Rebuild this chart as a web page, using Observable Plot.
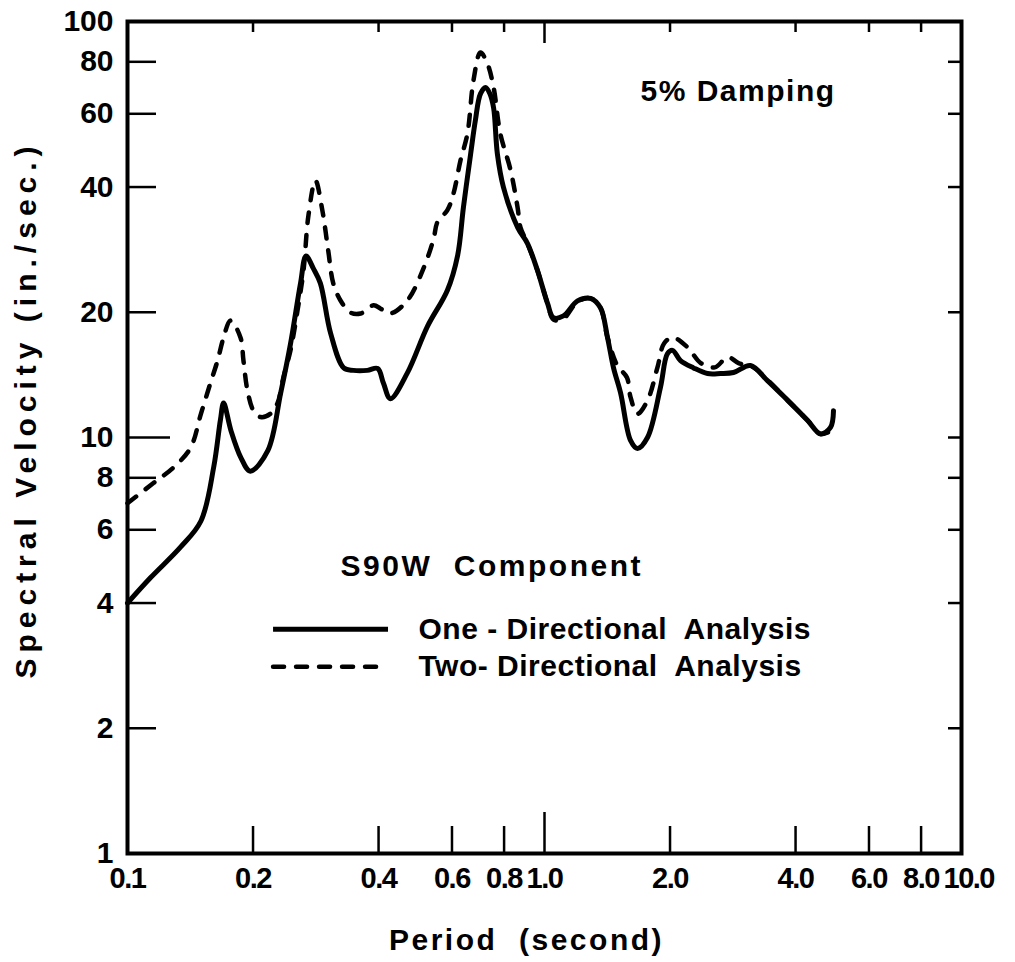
<!DOCTYPE html>
<html>
<head>
<meta charset="utf-8">
<script src="https://cdn.jsdelivr.net/npm/d3@7"></script>
<script src="https://cdn.jsdelivr.net/npm/@observablehq/plot@0.6"></script>
<style>
  body { margin: 0; background: #fff; }
  svg { font-family: "Liberation Sans", Arial, sans-serif; }
  g[aria-description="y-title"] text { letter-spacing: 6px; }
  g[aria-description="x-title"] text { letter-spacing: 2.5px; }
  g[aria-description="x-ticks"] text { letter-spacing: -1.5px; }
  g[aria-description="damping"] text { letter-spacing: 1.5px; }
  g[aria-description="component"] text { letter-spacing: 2.5px; }
  g[aria-description="legend-text"] text { letter-spacing: 0.5px; }
</style>
</head>
<body>
<div id="chart"></div>
<script>
// Velocity response spectrum, S90W component, 5% damping.
// Period in seconds, spectral velocity in in./sec.
const onePeriod = [0.100, 0.1135, 0.134, 0.150, 0.161, 0.167, 0.170, 0.177, 0.187, 0.197,
  0.217, 0.233, 0.246, 0.260, 0.268, 0.279, 0.290, 0.307, 0.330, 0.348,
  0.376, 0.398, 0.411, 0.427, 0.469, 0.524, 0.585, 0.619, 0.639, 0.665,
  0.683, 0.702, 0.722, 0.740, 0.755, 0.771, 0.797, 0.862, 0.910, 0.962,
  1.017, 1.051, 1.110, 1.200, 1.289, 1.362, 1.416, 1.464, 1.522, 1.608,
  1.671, 1.766, 1.897, 1.972, 2.028, 2.119, 2.277, 2.460, 2.643, 2.840,
  3.119, 3.425, 3.825, 4.272, 4.591, 4.852, 4.932];
const oneVelocity = [4.0, 4.6, 5.45, 6.3, 8.5, 11.0, 12.1, 10.4, 8.95, 8.3,
  9.3, 12.8, 16.8, 23.5, 27.3, 25.5, 23.5, 17.8, 14.7, 14.5,
  14.5, 14.65, 13.5, 12.4, 14.3, 18.5, 22.6, 27.4, 35.7, 48,
  58, 67, 69.4, 67, 62, 48, 40, 32, 29.3, 25.2,
  21, 19.4, 19.6, 21.3, 21.6, 20.5, 17.4, 14.7, 12.8, 9.84,
  9.41, 10.0, 13.2, 15.9, 16.2, 15.3, 14.7, 14.25, 14.25, 14.33,
  14.9, 13.7, 12.3, 11.0, 10.2, 10.57, 11.6];

const twoPeriod = [0.100, 0.1154, 0.1289, 0.1416, 0.150, 0.158, 0.1644, 0.170, 0.1766, 0.1866,
  0.1897, 0.194, 0.2005, 0.2085, 0.220, 0.2288, 0.2365, 0.246, 0.2557, 0.2643,
  0.2716, 0.2823, 0.2932, 0.303, 0.3116, 0.3242, 0.3427, 0.3623, 0.3894, 0.4047,
  0.427, 0.469, 0.5126, 0.5419, 0.554, 0.585, 0.605, 0.629, 0.6535, 0.6755,
  0.702, 0.729, 0.755, 0.7834, 0.8292, 0.862, 0.8757, 0.910, 0.962, 1.017,
  1.051, 1.110, 1.200, 1.289, 1.362, 1.416, 1.4945, 1.5765, 1.608, 1.671,
  1.766, 1.866, 1.935, 2.030, 2.2, 2.37, 2.56, 2.75, 2.92, 3.17,
  3.425, 3.825, 4.272, 4.591, 4.85];
const twoVelocity = [6.95, 7.77, 8.47, 9.44, 11.4, 13.5, 15.3, 17.4, 19.1, 17.4,
  15.3, 12.95, 11.6, 11.2, 11.4, 12.07, 13.94, 16.2, 20.2, 25.2,
  34.2, 41.5, 35.2, 28.1, 23.45, 21.35, 19.96, 19.87, 20.8, 20.4,
  19.87, 21.35, 25.5, 30.0, 33.0, 35.2, 38.6, 46.4, 53.8, 72.1,
  84.2, 79.4, 69.4, 53.8, 43.9, 35.7, 32, 29.3, 25.2, 21,
  19.2, 19.3, 21.2, 21.6, 20.5, 17.4, 14.9, 13.94, 12.5, 11.4,
  12.27, 14.74, 16.83, 17.4, 16.5, 15.1, 14.74, 15.6, 15.1, 14.74,
  13.75, 12.3, 11.0, 10.2, 10.35];

const xTicks = [0.1, 0.2, 0.4, 0.6, 0.8, 1, 2, 4, 6, 8, 10];
const xTickLabels = ["0.1", "0.2", "0.4", "0.6", "0.8", "1.0", "2.0", "4.0", "6.0", "8.0", "10.0"];
const yTicks = [1, 2, 4, 6, 8, 10, 20, 40, 60, 80, 100];
const yTickLabels = ["1", "2", "4", "6", "8", "10", "20", "40", "60", "80", "100"];

const seriesNames = ["One - Directional  Analysis", "Two- Directional  Analysis"];
const componentName = "S90W  Component";
const dampingNote = "5% Damping";

const oneDir = onePeriod.map((period, i) => ({period, velocity: oneVelocity[i]}));
const twoDir = twoPeriod.map((period, i) => ({period, velocity: twoVelocity[i]}));

const W = 1015, H = 962;
const M = {left: 127, right: 54, top: 21, bottom: 109};
const plotW = W - M.left - M.right;
const plotH = H - M.top - M.bottom;

const innerX = xTicks.filter(d => d > 0.1 && d < 10 && d !== 1);
const innerY = yTicks.filter(d => d > 1 && d < 100 && d !== 10);

const bold = {fontWeight: "bold", fill: "black"};
const tickStyle = {stroke: "black", strokeWidth: 2.5};

// legend key positions in data units (period, velocity)
const keyX1 = 0.224, keyX2 = 0.4226;
const keyY = [3.46, 2.81];

const chart = Plot.plot({
  width: W,
  height: H,
  marginLeft: M.left,
  marginRight: M.right,
  marginTop: M.top,
  marginBottom: M.bottom,
  style: {fontSize: "30px", background: "white", color: "black"},
  x: {type: "log", domain: [0.1, 10], axis: null},
  y: {type: "log", domain: [1, 100], axis: null},
  marks: [
    // inward ticks on all four sides
    Plot.tickY(innerY, {y: d => d, insetRight: plotW - 29, ...tickStyle}),
    Plot.tickY([10], {y: d => d, insetRight: plotW - 43, ...tickStyle}),
    Plot.tickY(innerY.concat([10]), {y: d => d, insetLeft: plotW - 13, ...tickStyle}),
    Plot.tickX(innerX, {x: d => d, insetTop: plotH - 27, ...tickStyle}),
    Plot.tickX([1], {x: d => d, insetTop: plotH - 41, ...tickStyle}),
    Plot.tickX(innerX, {x: d => d, insetBottom: plotH - 11, ...tickStyle}),
    Plot.tickX([1], {x: d => d, insetBottom: plotH - 22, ...tickStyle}),
    Plot.frame({stroke: "black", strokeWidth: 4}),

    // tick labels
    Plot.text(yTicks, {y: d => d, text: (d, i) => yTickLabels[i], frameAnchor: "left",
      textAnchor: "end", lineAnchor: "middle", dx: -14, fontSize: 30, ...bold}),
    Plot.text(xTicks, {x: d => d, text: (d, i) => xTickLabels[i], frameAnchor: "bottom",
      textAnchor: "start", lineAnchor: "top", dx: -18, dy: 14, fontSize: 29,
      ariaDescription: "x-ticks", ...bold}),

    // spectra
    Plot.line(oneDir, {x: "period", y: "velocity", curve: "catmull-rom",
      stroke: "black", strokeWidth: 5, strokeLinejoin: "round", strokeLinecap: "round"}),
    Plot.line(twoDir, {x: "period", y: "velocity", curve: "catmull-rom",
      stroke: "black", strokeWidth: 4.5, strokeDasharray: "11,12", strokeLinecap: "round"}),

    // axis titles
    Plot.text(["Spectral Velocity (in./sec.)"], {text: d => d, frameAnchor: "left", rotate: -90,
      textAnchor: "middle", lineAnchor: "middle",
      dx: -101, dy: -28, fontSize: 30, ariaDescription: "y-title", ...bold}),
    Plot.text(["Period  (second)"], {text: d => d, frameAnchor: "bottom",
      textAnchor: "middle", lineAnchor: "middle",
      dx: -18, dy: 87, fontSize: 30, ariaDescription: "x-title", ...bold}),

    // annotations
    Plot.text([dampingNote], {text: d => d, frameAnchor: "top-left", textAnchor: "start",
      lineAnchor: "middle", dx: 513, dy: 70, fontSize: 30, ariaDescription: "damping", ...bold}),
    Plot.text([componentName], {text: d => d, frameAnchor: "top-left", textAnchor: "start",
      lineAnchor: "middle", dx: 213, dy: 545, fontSize: 30, ariaDescription: "component", ...bold}),

    // legend
    Plot.ruleY([keyY[0]], {y: d => d, x1: keyX1, x2: keyX2, stroke: "black", strokeWidth: 5}),
    Plot.ruleY([keyY[1]], {y: d => d, x1: keyX1, x2: keyX2, stroke: "black", strokeWidth: 4.5,
      strokeDasharray: "11,12", strokeLinecap: "round"}),
    Plot.text(seriesNames, {text: d => d, x: keyX2, y: (d, i) => keyY[i], textAnchor: "start",
      lineAnchor: "middle", dx: 30, fontSize: 30, ariaDescription: "legend-text", ...bold})
  ]
});

document.getElementById("chart").append(chart);
</script>
</body>
</html>
